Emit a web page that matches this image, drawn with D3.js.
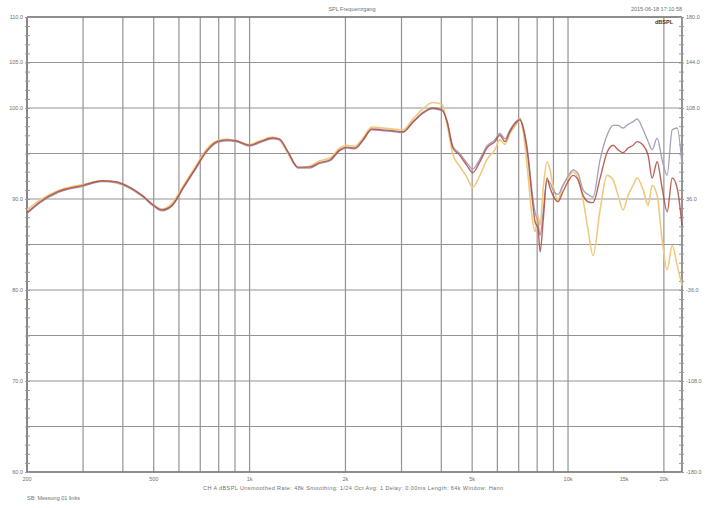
<!DOCTYPE html>
<meta charset="utf-8">
<style>

body {
  margin: 0;
  background: #fff;
}

svg {
  font-family: "Liberation Sans", Arial, sans-serif;
}

.grid line {
  stroke: #939393;
  stroke-width: 1.2px;
}

.label {
  font-size: 5.5px;
  fill: #707070;
}

.trace {
  fill: none;
  stroke-linejoin: round;
}

</style>
<svg width="705" height="508"></svg>
<script src="https://cdn.jsdelivr.net/npm/d3@7"></script>
<script>

// frequency points (Hz)
var freq = [200,220,250,300,345,380,420,460,500,530,
  570,620,680,730,790,850,910,1000,1080,1180,
  1240,1320,1420,1540,1660,1790,1920,2020,2140,2270,
  2420,2620,2820,3030,3260,3500,3760,4020,4170,4350,
  4570,4810,5020,5290,5560,5890,6110,6340,6570,6910,
  7060,7220,7490,7700,7880,8050,8170,8350,8590,8780,
  8970,9300,9640,10000,10370,10750,11150,11560,11980,12610,
  13260,13850,14360,14890,15440,16010,16480,17220,17850,18370,
  19050,19750,20480,21240,22020,22800];

// level in dB, red trace
var redDb = [88.5,89.7,90.8,91.5,92.0,91.9,91.3,90.4,89.3,88.8,
  89.3,91.3,93.5,95.2,96.3,96.5,96.4,95.9,96.3,96.7,
  96.6,95.2,93.5,93.5,94.0,94.3,95.4,95.7,95.6,96.5,
  97.7,97.6,97.5,97.4,98.5,99.5,100.0,99.8,98.5,95.6,
  94.8,93.7,92.9,94.1,95.6,96.3,97.0,96.3,97.4,98.5,
  98.7,97.9,94.5,90.4,87.5,86.8,84.2,87.5,92.3,91.2,
  90.4,89.7,90.8,91.9,92.6,92.1,90.4,89.7,89.6,92.3,
  95.1,95.9,95.4,95.1,95.6,95.9,96.3,95.9,94.8,92.3,
  94.1,91.2,88.6,92.3,91.2,87.1];

// level in dB, yellow trace
var yellowDb = [88.8,89.9,90.9,91.6,92.0,91.8,91.2,90.3,89.3,88.9,
  89.5,91.5,93.7,95.4,96.4,96.6,96.3,96.0,96.4,96.8,
  96.5,95.0,93.4,93.6,94.2,94.5,95.6,95.9,95.8,96.7,
  97.9,97.8,97.7,97.6,98.8,99.9,100.6,100.4,98.2,94.9,
  93.6,92.4,91.3,92.6,94.3,95.4,96.5,96.0,97.2,98.3,
  98.9,97.6,92.6,88.2,86.4,88.2,87.1,91.0,94.1,93.2,
  91.5,89.9,91.5,92.3,93.0,92.3,89.9,86.6,83.8,88.8,
  92.6,92.1,90.4,88.8,90.4,91.5,92.3,91.0,89.3,91.5,
  90.4,85.5,82.2,84.9,82.7,80.5];

// level in dB, grey trace
var greyDb = [88.4,89.6,90.7,91.4,91.9,91.8,91.2,90.3,89.2,88.7,
  89.2,91.2,93.4,95.1,96.2,96.4,96.3,95.8,96.2,96.6,
  96.5,95.1,93.4,93.4,93.9,94.2,95.3,95.6,95.5,96.4,
  97.6,97.5,97.4,97.3,98.4,99.4,99.9,99.7,98.6,95.8,
  95.0,94.0,93.3,94.4,95.8,96.5,97.2,96.6,97.6,98.6,
  98.8,98.0,95.0,91.0,88.5,87.5,86.0,88.5,92.0,91.8,
  91.0,90.5,91.5,92.5,93.2,92.8,91.0,90.5,90.2,94.3,
  97.0,98.1,98.1,97.8,98.2,98.5,98.8,97.6,96.3,95.4,
  96.7,94.3,92.6,97.6,97.8,93.7];

var xGrid = [200,300,400,500,600,700,800,900,1000,2000,3000,4000,5000,6000,7000,8000,9000,10000,20000];
var xTicks = [200,500,1000,2000,5000,10000,15000,20000];
var xTickLabels = ["200","500","1k","2k","5k","10k","15k","20k"];
var yGrid = [110,105,100,95,90,85,80,75,70,65,60];
var yLeftTicks = [110,105,100,90,80,70,60];
var yLeftLabels = ["110.0","105.0","100.0","90.0","80.0","70.0","60.0"];
var yRightLabels = ["180.0","144.0","108.0","36.0","-36.0","-108.0","-180.0"];

var svg = d3.select("svg"),
    margin = {top: 17, right: 23, bottom: 36, left: 27},
    width = svg.attr("width") - margin.left - margin.right,
    height = svg.attr("height") - margin.top - margin.bottom,
    g = svg.append("g").attr("transform", "translate(" + margin.left + "," + margin.top + ")");

var x = d3.scaleLog().domain([200, 22800]).range([0, width]),
    y = d3.scaleLinear().domain([60, 110]).range([height, 0]);

// grid
var grid = g.append("g").attr("class", "grid");
grid.selectAll(".vx")
  .data(xGrid)
  .enter().append("line")
    .attr("x1", function(d) { return x(d); })
    .attr("x2", function(d) { return x(d); })
    .attr("y1", 0)
    .attr("y2", height);
grid.selectAll(".hy")
  .data(yGrid)
  .enter().append("line")
    .attr("x1", 0)
    .attr("x2", width)
    .attr("y1", function(d) { return y(d); })
    .attr("y2", function(d) { return y(d); });

// frame lines
g.append("line").attr("x1", 0).attr("x2", width).attr("y1", 0).attr("y2", 0)
  .style("stroke", "#7a7a7a").style("stroke-width", 1.6);
g.append("line").attr("x1", 0).attr("x2", width).attr("y1", height).attr("y2", height)
  .style("stroke", "#7a7a7a").style("stroke-width", 1.6);
g.append("line").attr("x1", 0).attr("x2", 0).attr("y1", 0).attr("y2", height)
  .style("stroke", "#7a7a7a").style("stroke-width", 1.6);
g.append("line").attr("x1", width).attr("x2", width).attr("y1", 0).attr("y2", height)
  .style("stroke", "#7a7a7a").style("stroke-width", 1.6);

// minor ticks every dB on both sides
var minor = d3.range(60, 111, 1);
g.append("g")
  .call(d3.axisLeft(y).tickValues(minor).tickSize(-3).tickFormat(""))
  .call(function(a) {
    a.select(".domain").remove();
    a.selectAll("line").style("stroke", "#999").attr("x1", -2);
  });
g.append("g")
  .attr("transform", "translate(" + width + ",0)")
  .call(d3.axisRight(y).tickValues(minor).tickSize(-3).tickFormat(""))
  .call(function(a) {
    a.select(".domain").remove();
    a.selectAll("line").style("stroke", "#999").attr("x1", 2);
  });

// y labels
g.selectAll(".yl")
  .data(yLeftTicks)
  .enter().append("text")
    .attr("class", "label")
    .attr("x", -4)
    .attr("y", function(d) { return y(d); })
    .attr("dy", "0.35em")
    .attr("text-anchor", "end")
    .text(function(d, i) { return yLeftLabels[i]; });
g.selectAll(".yr")
  .data(yLeftTicks)
  .enter().append("text")
    .attr("class", "label")
    .attr("x", width + 4)
    .attr("y", function(d) { return y(d); })
    .attr("dy", "0.35em")
    .text(function(d, i) { return yRightLabels[i]; });

// x labels
g.selectAll(".xl")
  .data(xTicks)
  .enter().append("text")
    .attr("class", "label")
    .attr("x", function(d) { return x(d); })
    .attr("y", height + 9)
    .attr("text-anchor", "middle")
    .text(function(d, i) { return xTickLabels[i]; });

// traces
var line = d3.line()
    .x(function(d) { return x(d.f); })
    .y(function(d) { return y(d.v); })
    .curve(d3.curveMonotoneX);

function pts(vals) {
  return freq.map(function(f, i) { return {f: f, v: vals[i]}; });
}

g.append("path").datum(pts(yellowDb)).attr("class", "trace")
  .attr("d", line).style("stroke", "#f0c97e").style("stroke-width", 1.6);
g.append("path").datum(pts(greyDb)).attr("class", "trace")
  .attr("d", line).style("stroke", "#a59db7").style("stroke-width", 1.3);
g.append("path").datum(pts(redDb)).attr("class", "trace")
  .attr("d", line).style("stroke", "#ad4a40").style("stroke-width", 1.4)
  .style("stroke-opacity", 0.85);

// header / footer texts
svg.append("text").attr("class", "label")
  .attr("x", 352).attr("y", 11).attr("text-anchor", "middle")
  .text("SPL Frequenzgang");
svg.append("text").attr("class", "label")
  .attr("x", 682).attr("y", 11).attr("text-anchor", "end")
  .text("2015-06-18 17:10:58");
svg.append("text")
  .attr("x", 673).attr("y", 24).attr("text-anchor", "end")
  .style("font-size", "5.5px").style("font-weight", "bold").style("fill", "#333")
  .text("dBSPL");
svg.append("text").attr("class", "label")
  .attr("x", 203).attr("y", 490)
  .attr("textLength", 300)
  .text("CH A  dBSPL  Unsmoothed  Rate: 48k  Smoothing: 1/24 Oct  Avg: 1  Delay: 0.00ms  Length: 64k  Window: Hann");
svg.append("text").attr("class", "label")
  .attr("x", 27).attr("y", 500)
  .text("SB: Messung 01 links");

</script>
